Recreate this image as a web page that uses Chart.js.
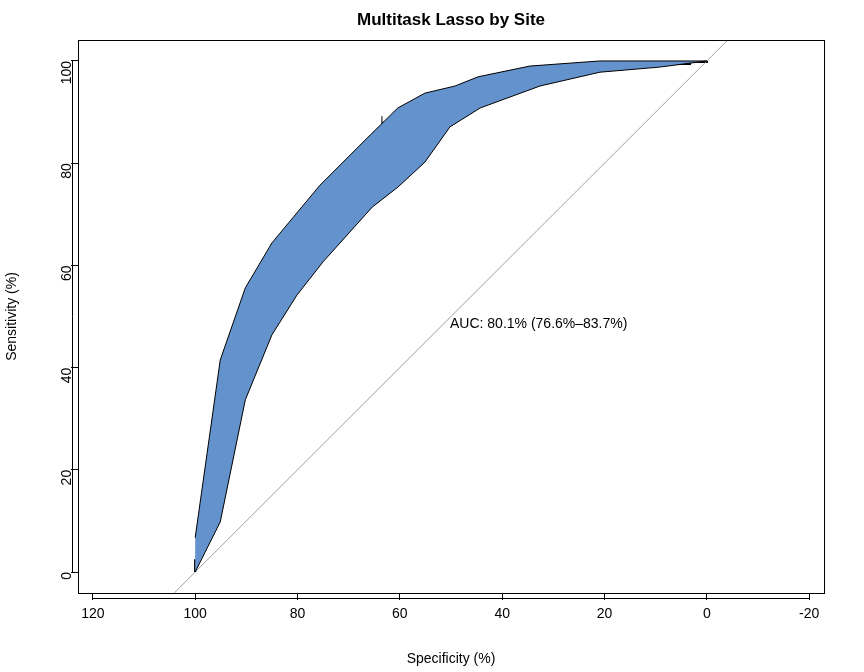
<!DOCTYPE html>
<html>
<head>
<meta charset="utf-8">
<script src="https://cdn.jsdelivr.net/npm/chart.js@4/dist/chart.umd.min.js"></script>
<style>
  body { margin: 0; background: #fff; }
  #wrap { width: 864px; height: 672px; }
</style>
</head>
<body>
<div id="wrap"><canvas id="roc"></canvas></div>
<script>
// ROC step curve (specificity %, sensitivity %)
const rocSpec = [100, 100, 99.4, 98.4, 97.5, 96.7, 95.9, 95.5, 95.1, 94.3, 93.9, 92.8, 91.6, 90.4, 89.8, 88.9, 87.7, 86.5, 85.7, 84.4, 82.8, 82.4, 80.9, 80.3, 78.5, 75, 74.2, 73, 70.7, 69.3, 66.8, 64.8, 62.9, 61.3, 60, 59, 58, 56, 54.1, 52.1, 51.4, 46.3, 44.3, 42, 37.5, 35.2, 30.7, 24.8, 15, 3.3, 0];
const rocSens = [0, 2.3, 5.3, 8.8, 11, 14.7, 17, 23, 27.8, 31.7, 36.2, 37.6, 39.1, 41.5, 44.4, 48.3, 50.9, 53.2, 55.2, 56.6, 57.5, 60.1, 61.4, 64, 65.9, 66.9, 69.9, 71.8, 72.8, 75.7, 76.7, 77.7, 79.1, 81, 83.6, 85.5, 87.5, 88.8, 90, 90.8, 92.4, 93.2, 94.7, 95.9, 96.3, 97.8, 98.4, 99, 99.4, 99.8, 100];

// confidence band
const upperSpec = [100, 95.1, 90.2, 85, 75.6, 65.8, 60.4, 55.1, 49.2, 44.7, 34.6, 20.9, 0];
const upperSens = [6.7, 41.5, 55.6, 64.4, 75.7, 85.5, 90.8, 93.7, 95.1, 96.9, 99, 100, 100];
const lowerSpec = [100, 95.1, 90.2, 85, 80.1, 75, 65.4, 60.4, 55.1, 50.2, 44.3, 32.6, 20.9, 9.2, 0];
const lowerSens = [0, 9.8, 33.7, 46.4, 54.2, 60.7, 71.4, 75.3, 80.2, 87.1, 90.8, 95.1, 97.8, 98.8, 100];

// best threshold with CI
const bestSpec = 57.5, bestSens = 88;
const specCI = [63.5, 51.5];
const sensCI = [84.5, 91.5];

const xTicks = [120, 100, 80, 60, 40, 20, 0, -20];
const yTicks = [0, 20, 40, 60, 80, 100];
const aucLabel = 'AUC: 80.1% (76.6%\u201383.7%)';

const pts = (xs, ys) => xs.map((x, i) => ({ x: x, y: ys[i] }));
const band = pts(upperSpec, upperSens).concat(pts(lowerSpec, lowerSens).reverse());
const cap = 1.2;
const seg = (a, b) => ({
  data: [a, b], borderColor: '#000', borderWidth: 1, pointRadius: 0, fill: false
});

const decor = {
  id: 'decor',
  afterDraw(chart) {
    const c = chart.ctx, a = chart.chartArea, xs = chart.scales.x, ys = chart.scales.y;
    c.save();
    c.strokeStyle = '#000';
    c.lineWidth = 1;
    c.strokeRect(a.left + 0.5, a.top + 0.5, a.right - a.left, a.bottom - a.top);
    // R style axis lines
    c.beginPath();
    c.moveTo(xs.getPixelForValue(120), a.bottom + 5.5);
    c.lineTo(xs.getPixelForValue(-20), a.bottom + 5.5);
    c.moveTo(a.left - 5.5, ys.getPixelForValue(0));
    c.lineTo(a.left - 5.5, ys.getPixelForValue(100));
    c.stroke();
    c.fillStyle = '#000';
    c.font = 'bold 17px "Liberation Sans", Arial, sans-serif';
    c.textAlign = 'center';
    c.textBaseline = 'middle';
    c.fillText('Multitask Lasso by Site', (a.left + a.right) / 2, 20);
    c.font = '14px "Liberation Sans", Arial, sans-serif';
    c.textAlign = 'left';
    c.fillText(aucLabel, xs.getPixelForValue(50.2), ys.getPixelForValue(48.6));
    c.restore();
  }
};

new Chart(document.getElementById('roc'), {
  type: 'line',
  data: {
    datasets: [
      { data: band, fill: 'shape', backgroundColor: '#6492cc', borderColor: '#000', borderWidth: 1, pointRadius: 0, tension: 0 },
      { data: [{ x: 104.1, y: -4.1 }, { x: -4.1, y: 104.1 }], borderColor: '#a0a0a0', borderWidth: 1, pointRadius: 0, fill: false },
      { data: pts(rocSpec, rocSens), stepped: 'before', borderColor: '#000', borderWidth: 2.2, pointRadius: 0, fill: false },
      seg({ x: specCI[0], y: bestSens }, { x: specCI[1], y: bestSens }),
      seg({ x: specCI[0], y: bestSens - cap }, { x: specCI[0], y: bestSens + cap }),
      seg({ x: specCI[1], y: bestSens - cap }, { x: specCI[1], y: bestSens + cap }),
      seg({ x: bestSpec, y: sensCI[0] }, { x: bestSpec, y: sensCI[1] }),
      seg({ x: bestSpec - cap, y: sensCI[0] }, { x: bestSpec + cap, y: sensCI[0] }),
      seg({ x: bestSpec - cap, y: sensCI[1] }, { x: bestSpec + cap, y: sensCI[1] })
    ]
  },
  options: {
    responsive: true,
    maintainAspectRatio: false,
    animation: false,
    layout: { padding: { top: 40, right: 40, left: 0, bottom: 0 } },
    plugins: { legend: { display: false }, tooltip: { enabled: false }, title: { display: false } },
    scales: {
      x: {
        type: 'linear', reverse: true, min: -22.9, max: 122.9,
        afterBuildTicks: s => { s.ticks = xTicks.map(v => ({ value: v })); },
        afterFit: s => { s.height = 79; },
        border: { display: false },
        grid: { drawOnChartArea: false, drawTicks: true, tickLength: 7, color: '#000', offset: false },
        ticks: { color: '#000', padding: 6, maxRotation: 0, font: { size: 14, family: '"Liberation Sans", Arial, sans-serif' } },
        title: { display: true, text: 'Specificity (%)', color: '#000', padding: { top: 14 }, font: { size: 14, family: '"Liberation Sans", Arial, sans-serif' } }
      },
      y: {
        type: 'linear', min: -4.1, max: 104.1,
        afterBuildTicks: s => { s.ticks = yTicks.map(v => ({ value: v })); },
        afterFit: s => { s.width = 78; },
        border: { display: false },
        grid: { drawOnChartArea: false, drawTicks: true, tickLength: 7, color: '#000' },
        ticks: { color: '#000', padding: 4, minRotation: 90, maxRotation: 90, font: { size: 14, family: '"Liberation Sans", Arial, sans-serif' } },
        title: { display: true, text: 'Sensitivity (%)', color: '#000', padding: { bottom: 8 }, font: { size: 14, family: '"Liberation Sans", Arial, sans-serif' } }
      }
    }
  },
  plugins: [decor]
});
</script>
</body>
</html>
